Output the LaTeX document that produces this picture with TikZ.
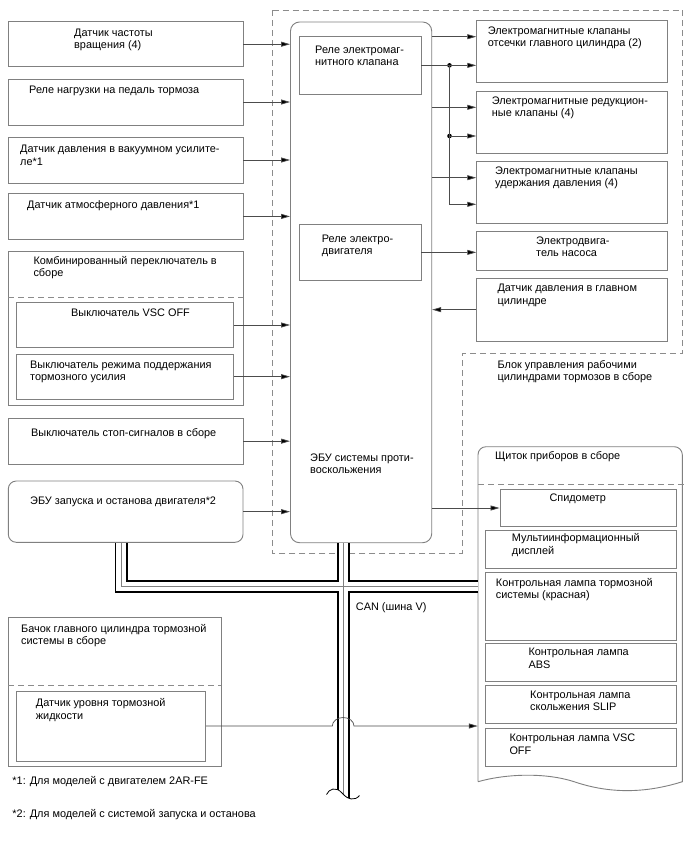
\documentclass[tikz,border=0pt]{standalone}
\usepackage{fontspec}
\setmainfont{Liberation Sans}
\usetikzlibrary{arrows.meta,fit}
\definecolor{bord}{gray}{0.5}
\definecolor{lncol}{gray}{0.3}
\definecolor{dcol}{gray}{0.55}
\newcommand\dfont{\fontsize{10.9}{12.6}\selectfont}
\begin{document}
\begin{tikzpicture}[x=1pt,y=-1pt,
  box/.style={draw=bord, line width=0.9pt, inner sep=0pt},
  txt/.style={anchor=base west, inner sep=0pt, align=left, font=\dfont},
  txtb/.style={txt, yshift=-12.6pt},
  arr/.style={draw=lncol, line width=0.7pt, -{Triangle[length=9pt,width=5pt,fill=black]}},
  plain/.style={draw=lncol, line width=0.7pt},
  dsh/.style={draw=dcol, line width=0.8pt, dash pattern=on 6pt off 4pt},
  jdot/.style={circle, fill=black, inner sep=0pt, minimum size=4.6pt}]
\useasboundingbox (0,0) rectangle (688,852);
\fill[white] (0,0) rectangle (688,852);

% actuator dashed outline
\draw[dsh] (272.7,10) -- (682.5,10) -- (682.5,353.3) -- (462.7,353.3) -- (462.7,553) -- (272.7,553) -- cycle;

% left boxes
\node[box, fit={(8.3,21.7) (243,66.7)}] (b1) {};
\node[box, fit={(8.3,79) (243,125)}] (b2) {};
\node[box, fit={(8.3,137) (243,183)}] (b3) {};
\node[box, fit={(8.3,193.5) (243,239.3)}] (b4) {};
\node[box, fit={(8.3,251) (243,405)}] (comb) {};
\draw[dsh] (8.3,297.3) -- (243,297.3);
\node[box, fit={(16,302.3) (233.3,347.7)}] (vsc) {};
\node[box, fit={(16,354) (233.3,399.3)}] (mode) {};
\node[box, fit={(8.3,418.3) (243,464)}] (stop) {};
\node[box, rounded corners=8pt, fit={(8.3,481) (243,542.3)}] (eng) {};

% ECU
\node[box, rounded corners=9pt, fit={(290.5,22) (431.7,542.7)}] (ecu) {};
\node[box, fit={(299,36.7) (421,94)}] (relay1) {};
\node[box, fit={(299,224) (421,280.7)}] (relay2) {};

% right boxes
\node[box, fit={(476.7,20.7) (667.5,82.7)}] (a) {};
\node[box, fit={(476.7,91) (667.5,153.3)}] (b) {};
\node[box, fit={(476.7,161) (667.5,223.3)}] (c) {};
\node[box, fit={(476.7,231.7) (667.5,270)}] (d) {};
\node[box, fit={(476.7,278.3) (667.5,341)}] (e) {};

% instrument panel
\node[fit={(478,446.7) (682.3,781.7)}, inner sep=0pt] (panel) {};
\draw[draw=bord, line width=0.9pt] (478,781.7) -- (478,454.7) arc[start angle=180, end angle=90, radius=8pt]
  -- (674.3,446.7) arc[start angle=90, end angle=0, radius=8pt] -- (682.3,781.7)
  .. controls (640,795) and (605,792) .. (575,782) .. controls (545,772) and (505,774) .. (478,781.7);
\draw[dsh] (478,484) -- (687,484);
\node[box, fit={(500,489.3) (676,526.7)}] (speedo) {};
\node[box, fit={(485.7,530) (676,568.3)}] (multi) {};
\node[box, fit={(485.7,572.3) (676,640.7)}] (brk) {};
\node[box, fit={(485.7,643.3) (676,681.7)}] (abs) {};
\node[box, fit={(485.7,685.7) (676,723.3)}] (slip) {};
\node[box, fit={(485.7,728.3) (676,766.7)}] (vscl) {};

% reservoir
\node[box, fit={(8.3,617.3) (221,766.7)}] (res) {};
\draw[dsh] (8.3,685.7) -- (221,685.7);
\node[box, fit={(16,691) (205.7,761)}] (fluid) {};

% CAN bus
\coordinate (busA) at (121,586.5);
\coordinate (busX) at (343.3,586.5);
\coordinate (busEnd) at (343.3,802);
\foreach \w/\c in {13/black, 9.2/white, 0.7/gray} {
  \draw[line width=\w pt, draw=\c] (busA |- eng.south) -- (busA) -- (busA -| panel.west);
  \draw[line width=\w pt, draw=\c] (busX |- ecu.south) -- (busEnd);
}
\fill[white] (324,794.5) .. controls (328,789) and (336,786) .. (342,793) .. controls (348,800) and (355,801) .. (359.5,795.5) -- (362,812) -- (324,812) -- cycle;
\draw[draw=black, line width=0.8pt] (326.5,794.5) .. controls (329,789) and (336,786) .. (342,793) .. controls (348,800) and (355,801) .. (359.5,795.5);

% arrows left to ECU
\foreach \n in {b1,b2,b3,b4,vsc,mode,stop,eng} {
  \draw[arr] (\n.east) -- (\n.east -| ecu.west);
}

% arrows ECU to right
\coordinate (ya1) at (0,36.7);
\coordinate (yb1) at (0,107.3);
\coordinate (yb2) at (0,136);
\coordinate (yc1) at (0,177.7);
\coordinate (yc2) at (0,204.3);
\coordinate (xj) at (449.5,0);
\draw[arr] (ecu.east |- ya1) -- (a.west |- ya1);
\draw[arr] (ecu.east |- yb1) -- (b.west |- yb1);
\draw[arr] (ecu.east |- yc1) -- (c.west |- yc1);
\node[jdot] (j1) at (relay1.east -| xj) {};
\node[jdot] (j2) at (xj |- yb2) {};
\draw[arr] (relay1.east) -- (relay1.east -| a.west);
\draw[arr] (j2.center) -- (j2.center -| b.west);
\draw[arr] (j1.center) -- (j1.center |- yc2) -- (c.west |- yc2);
\draw[arr] (relay2.east) -- (relay2.east -| d.west);
\draw[arr] (e.west) -- (e.west -| ecu.east);
\draw[arr] (speedo.west -| ecu.east) -- (speedo.west);

% fluid sensor line with hop
\coordinate (hopL) at (332.3,0);
\draw[arr] (fluid.east) -- (fluid.east -| hopL) arc[start angle=180, end angle=0, x radius=10.85pt, y radius=8.5pt] -- (fluid.east -| panel.west);

% texts (txtb: two-line texts, placed by the first line's baseline)
\node[txtb] (t1) at (74,36) {Датчик частоты\\вращения (4)};
\node[txt] (t2) at (29,93.5) {Реле нагрузки на педаль тормоза};
\node[txtb] (t3) at (20,152.5) {Датчик давления в вакуумном усилите-\\ле*1};
\node[txt] (t4) at (27,208.5) {Датчик атмосферного давления*1};
\node[txtb] (t5) at (33.3,264.3) {Комбинированный переключатель в\\сборе};
\node[txt] (t6) at (71,316) {Выключатель VSC OFF};
\node[txtb] (t7) at (30,368.3) {Выключатель режима поддержания\\тормозного усилия};
\node[txt] (t8) at (31,436) {Выключатель стоп-сигналов в сборе};
\node[txt] (t9) at (30,504.3) {ЭБУ запуска и останова двигателя*2};
\node[txtb] (tecu) at (310,461) {ЭБУ системы проти-\\воскольжения};
\node[txtb] (tr1) at (315,53.3) {Реле электромаг-\\нитного клапана};
\node[txtb] (tr2) at (321.7,242.3) {Реле электро-\\двигателя};
\node[txtb] (ta) at (487.7,34.3) {Электромагнитные клапаны\\отсечки главного цилиндра (2)};
\node[txtb] (tb) at (491.7,104) {Электромагнитные редукцион-\\ные клапаны (4)};
\node[txtb] (tc) at (495,174.3) {Электромагнитные клапаны\\удержания давления (4)};
\node[txtb] (td) at (536,244.3) {Электродвига-\\тель насоса};
\node[txtb] (te) at (497.3,291.7) {Датчик давления в главном\\цилиндре};
\node[txtb] (tblk) at (497.3,368.3) {Блок управления рабочими\\цилиндрами тормозов в сборе};
\node[txt] (tpanel) at (495,459.3) {Щиток приборов в сборе};
\node[txt] (tsp) at (549.3,501.7) {Спидометр};
\node[txtb] (tmu) at (511.7,541.7) {Мультиинформационный\\дисплей};
\node[txtb] (tbr) at (495.7,586) {Контрольная лампа тормозной\\системы (красная)};
\node[txtb] (tabs) at (528.3,655.7) {Контрольная лампа\\ABS};
\node[txtb] (tslip) at (530,698.3) {Контрольная лампа\\скольжения SLIP};
\node[txtb] (tvsc) at (509.3,741.7) {Контрольная лампа VSC\\OFF};
\node[txt] (tcan) at (355.7,610) {CAN (шина V)};
\node[txtb] (tres) at (21,632.3) {Бачок главного цилиндра тормозной\\системы в сборе};
\node[txtb] (tfl) at (35.7,706.7) {Датчик уровня тормозной\\жидкости};
\node[txt] (fn1) at (12.3,784.3) {*1: Для моделей с двигателем 2AR-FE};
\node[txt] (fn2) at (12.3,817.7) {*2: Для моделей с системой запуска и останова};
\end{tikzpicture}
\end{document}
